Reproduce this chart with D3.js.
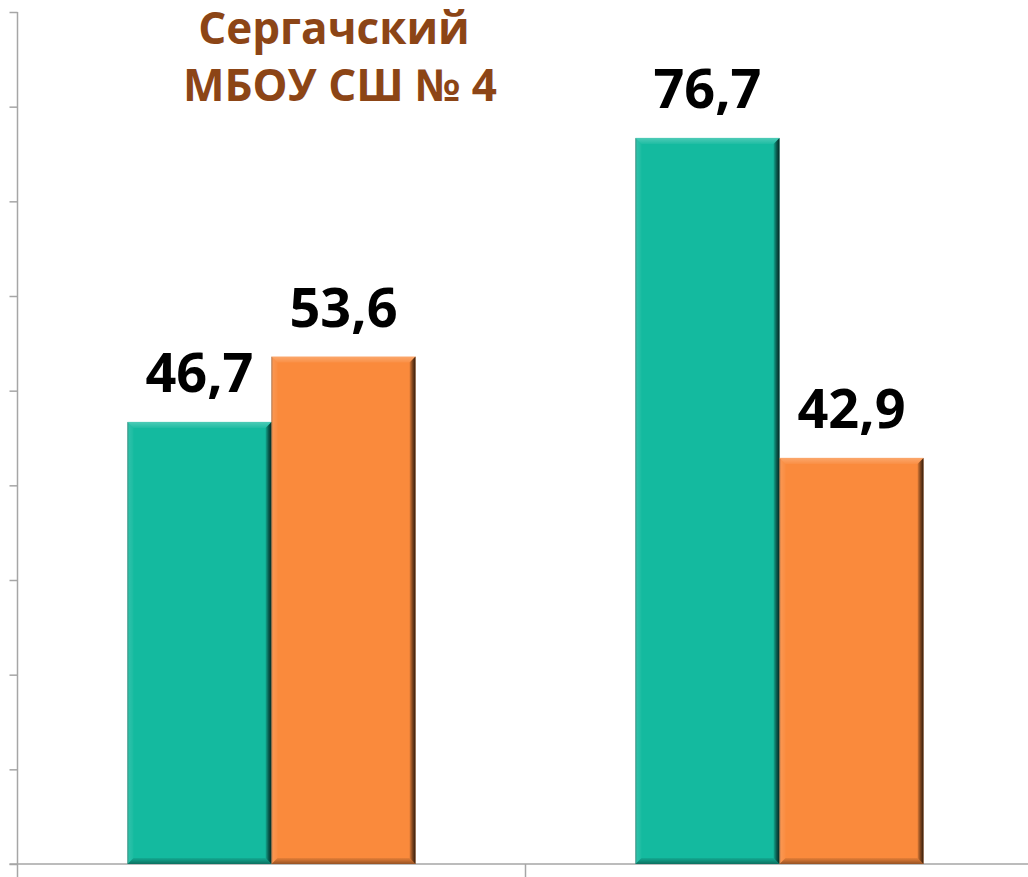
<!DOCTYPE html>
<meta charset="utf-8">
<script src="https://d3js.org/d3.v7.min.js"></script>
<style>
  body { margin: 0; background: #fff; }
  svg { display: block; }
</style>
<div id="chart"></div>
<script>

// data
var categories = ["Группа 1", "Группа 2"];
var seriesNames = ["Серия 1", "Серия 2"];
var series1 = [46.7, 76.7];
var series2 = [53.6, 42.9];
var valueLabels = [["46,7", "53,6"], ["76,7", "42,9"]];
var titleLines = ["Сергачский", "МБОУ СШ № 4"];
var yTicks = [0, 10, 20, 30, 40, 50, 60, 70, 80, 90];

var colors = ["#14ba9f", "#fa8a3c"];

var W = 1028, H = 877;
var margin = {left: 17.5, top: 12, bottom: 13};
var baseY = H - margin.bottom;

var svg = d3.select("#chart").append("svg")
  .attr("width", W)
  .attr("height", H);

var defs = svg.append("defs");
function grad(id, x1, y1, x2, y2, stops) {
  var g = defs.append("linearGradient").attr("id", id)
    .attr("x1", x1).attr("y1", y1).attr("x2", x2).attr("y2", y2);
  stops.forEach(function(s) {
    g.append("stop").attr("offset", s[0]).attr("stop-color", s[1]).attr("stop-opacity", s[2]);
  });
}
grad("gRight", 0, 0, 1, 0, [[0, "#000", 0.1], [0.5, "#000", 0.5], [1, "#000", 0.8]]);
grad("gBottom", 0, 0, 0, 1, [[0, "#000", 0.08], [1, "#000", 0.4]]);
grad("gTop", 0, 0, 0, 1, [[0, "#fff", 0.25], [1, "#fff", 0.05]]);
grad("gLeft", 0, 0, 1, 0, [[0, "#000", 0.4], [0.3, "#fff", 0.1], [1, "#fff", 0.03]]);

// scales
var x0 = d3.scaleBand()
  .domain(categories)
  .range([margin.left, 1033.5])
  .paddingInner(0.433)
  .paddingOuter(0.2165);

var x1 = d3.scaleBand()
  .domain(seriesNames)
  .range([0, x0.bandwidth()]);

var y = d3.scaleLinear()
  .domain([0, 90])
  .range([baseY, margin.top]);

// Y axis
var yAxis = svg.append("g")
  .attr("transform", "translate(" + margin.left + ",0)")
  .call(d3.axisLeft(y).tickValues(yTicks).tickSize(8).tickFormat(""));
yAxis.select(".domain").remove();
yAxis.selectAll("line").attr("stroke", "#a6a6a6").attr("stroke-width", 1.5);
svg.append("line")
  .attr("x1", margin.left).attr("x2", margin.left)
  .attr("y1", y(90)).attr("y2", H)
  .attr("stroke", "#a6a6a6").attr("stroke-width", 1.5);

// X axis baseline and category separators
svg.append("line")
  .attr("x1", margin.left - 8).attr("x2", W)
  .attr("y1", baseY).attr("y2", baseY)
  .attr("stroke", "#a6a6a6").attr("stroke-width", 1.5);
var sepX = x0(categories[1]) - x0.step() * x0.paddingInner() / 2;
svg.append("line")
  .attr("x1", sepX).attr("x2", sepX)
  .attr("y1", baseY).attr("y2", H)
  .attr("stroke", "#a6a6a6").attr("stroke-width", 1.5);

// bars
var rows = [];
categories.forEach(function(c, i) {
  rows.push({cat: c, s: 0, value: series1[i], label: valueLabels[i][0]});
  rows.push({cat: c, s: 1, value: series2[i], label: valueLabels[i][1]});
});

var b = 6;
svg.append("g").selectAll("g")
  .data(rows)
  .join("g")
  .each(function(d) {
    var g = d3.select(this);
    var xa = x0(d.cat) + x1(seriesNames[d.s]);
    var xb = xa + x1.bandwidth();
    var ya = y(d.value), yb = y(0);
    g.append("rect")
      .attr("x", xa).attr("y", ya)
      .attr("width", xb - xa).attr("height", yb - ya)
      .attr("fill", colors[d.s]);
    g.append("polygon")
      .attr("points", [[xa, ya], [xb, ya], [xb - b, ya + b], [xa + b, ya + b]].join(" "))
      .attr("fill", "url(#gTop)");
    g.append("polygon")
      .attr("points", [[xa, ya], [xa + b, ya + b], [xa + b, yb - b], [xa, yb]].join(" "))
      .attr("fill", "url(#gLeft)");
    g.append("polygon")
      .attr("points", [[xa, yb], [xa + b, yb - b], [xb - b, yb - b], [xb, yb]].join(" "))
      .attr("fill", "url(#gBottom)");
    g.append("polygon")
      .attr("points", [[xb - b, ya + b], [xb, ya], [xb, yb], [xb - b, yb - b]].join(" "))
      .attr("fill", "url(#gRight)");
  });

// value labels
svg.append("g").selectAll("text")
  .data(rows)
  .join("text")
  .attr("x", function(d) { return x0(d.cat) + x1(seriesNames[d.s]) + x1.bandwidth() / 2; })
  .attr("y", function(d) { return y(d.value) - 30; })
  .attr("text-anchor", "middle")
  .attr("font-family", "'Open Sans', sans-serif")
  .attr("font-weight", "bold")
  .attr("font-size", 54)
  .attr("fill", "#000")
  .text(function(d) { return d.label; });

// title
svg.append("text")
  .attr("text-anchor", "middle")
  .attr("font-family", "'Open Sans', sans-serif")
  .attr("font-weight", "bold")
  .attr("font-size", 44)
  .attr("fill", "#8c4516")
  .selectAll("tspan")
  .data(titleLines)
  .join("tspan")
  .attr("x", function(d, i) { return i === 0 ? 334 : 340; })
  .attr("y", function(d, i) { return 44 + i * 57; })
  .text(function(d) { return d; });

</script>
